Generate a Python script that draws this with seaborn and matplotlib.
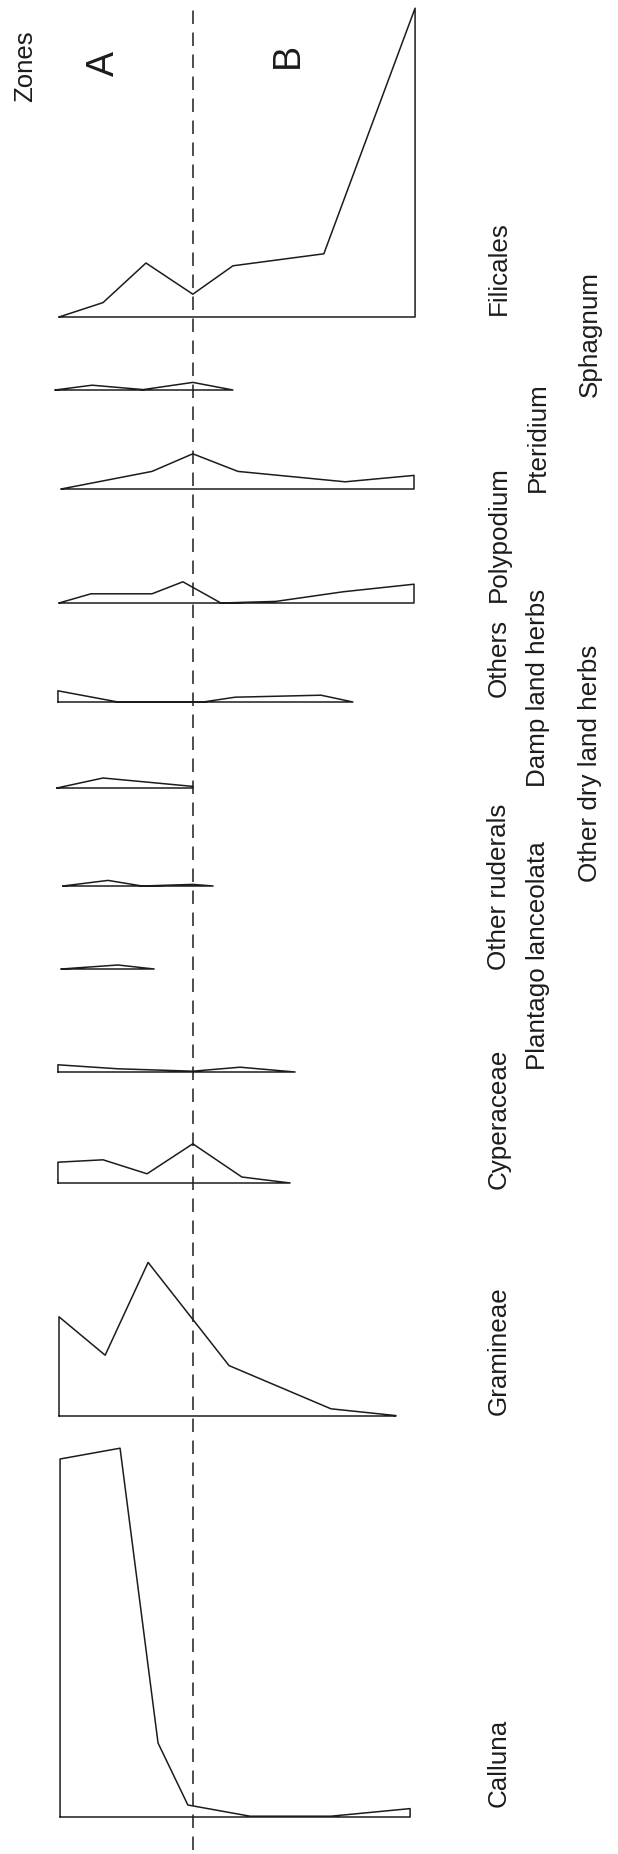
import numpy as np
import pandas as pd
import matplotlib
matplotlib.use('Agg')
import matplotlib.pyplot as plt
import seaborn as sns

# pollen taxa, top to bottom of the (rotated) diagram
taxa = ['Filicales', 'Sphagnum', 'Pteridium', 'Polypodium', 'Others',
        'Damp land herbs', 'Other dry land herbs', 'Other ruderals',
        'Plantago lanceolata', 'Cyperaceae', 'Gramineae', 'Calluna']

# sample depths (cm) and percentages for each taxon
filicales_depth = [0, 12.4, 24.5, 37.7, 49.0, 74.6, 100.3]
filicales_pct = [0, 3.6, 13.5, 5.7, 12.8, 15.8, 77.2]

sphagnum_depth = [-1.1, 9.3, 23.7, 37.7, 49.0]
sphagnum_pct = [0, 1.2, 0.1, 1.9, 0]

pteridium_depth = [0.6, 26.2, 37.7, 50.4, 80.6, 100.0]
pteridium_pct = [0, 4.4, 8.8, 4.4, 1.8, 3.4]

polypodium_depth = [0, 9.0, 26.2, 34.9, 45.6, 61.1, 80.0, 100.0]
polypodium_pct = [0, 2.3, 2.3, 5.3, 0, 0.4, 2.8, 4.7]

others_depth = [-0.3, 16.6, 40.6, 49.6, 73.8, 82.8]
others_pct = [2.8, 0, 0, 1.2, 1.7, 0]

damp_depth = [-0.6, 12.4, 37.7]
damp_pct = [0, 2.5, 0.4]

drylandherbs_depth = [1.1, 13.8, 23.4, 37.7, 43.4]
drylandherbs_pct = [0, 1.4, 0, 0.4, 0]

ruderals_depth = [0.6, 16.6, 26.8]
ruderals_pct = [0, 1.0, 0]

plantago_depth = [-0.3, 16.6, 37.7, 51.0, 66.5]
plantago_pct = [1.8, 0.8, 0.2, 1.2, 0]

cyperaceae_depth = [-0.3, 12.4, 24.8, 37.7, 51.5, 65.1]
cyperaceae_pct = [5.2, 5.8, 2.3, 9.8, 1.5, 0]

gramineae_depth = [0, 13.0, 25.1, 47.9, 76.6, 94.9]
gramineae_pct = [24.8, 15.2, 38.4, 12.6, 1.8, 0.1]

calluna_depth = [0.3, 17.2, 27.9, 36.3, 53.8, 76.6, 98.9]
calluna_pct = [89.5, 92.2, 18.5, 3.0, 0.2, 0.2, 2.1]

zone_names = ['A', 'B']
zone_boundary = 37.7

series = [
    (filicales_depth, filicales_pct), (sphagnum_depth, sphagnum_pct),
    (pteridium_depth, pteridium_pct), (polypodium_depth, polypodium_pct),
    (others_depth, others_pct), (damp_depth, damp_pct),
    (drylandherbs_depth, drylandherbs_pct), (ruderals_depth, ruderals_pct),
    (plantago_depth, plantago_pct), (cyperaceae_depth, cyperaceae_pct),
    (gramineae_depth, gramineae_pct), (calluna_depth, calluna_pct),
]

# ---- layout (pixels of the 618x1854 image) ----
W, H = 618, 1854
PX_PER_CM = 3.55
PX_PER_PCT = 4.0
X0 = 59  # depth 0
baseline_px = [317, 390, 489, 603, 702, 788, 886, 969, 1072, 1183, 1416, 1817]
label_col = [0, 2, 1, 0, 0, 1, 2, 0, 1, 0, 0, 0]
col_x_px = [506, 545, 597]
label_y_px = [315, 397, 492, 602, 697, 787, 882, 970, 1070, 1189, 1415, 1807]
INK = '#1c1c1c'


def px_x(p):
    return (p - X0) / PX_PER_CM


def px_y(p):
    return (H - p) / PX_PER_PCT


# build closed outlines: curve plus baseline
rows = []
for name, (d, v), base in zip(taxa, series, baseline_px):
    off = px_y(base)
    xs = [d[0]] + list(d) + [d[-1], d[0]]
    ys = [0] + list(v) + [0, 0]
    for i, (x, y) in enumerate(zip(xs, ys)):
        rows.append({'taxon': name, 'order': i, 'depth': x, 'y': off + y})
df = pd.DataFrame(rows)

sns.set_theme(style='white')
plt.rcParams['font.family'] = ['Liberation Sans', 'DejaVu Sans']

fig = plt.figure(figsize=(W / 100, H / 100), dpi=100)
ax = fig.add_axes([0, 0, 1, 1])

sns.lineplot(data=df, x='depth', y='y', units='taxon', estimator=None,
             sort=False, color=INK, linewidth=1.1, legend=False, ax=ax)

# zone boundary
ax.axvline(zone_boundary, ymin=4 / H, ymax=(H - 7) / H, color=INK,
           linewidth=1.1, linestyle=(0, (8.8, 5.6)))

ax.set_xlim(px_x(0), px_x(W))
ax.set_ylim(0, H / PX_PER_PCT)
ax.set_axis_off()

# taxon labels, rotated, starting at each baseline
for name, col, ly in zip(taxa, label_col, label_y_px):
    ax.text(px_x(col_x_px[col]), px_y(ly), name, rotation=90,
            rotation_mode='anchor', ha='left', va='baseline',
            fontsize=18.7, color=INK)

ax.text(px_x(32), px_y(102), 'Zones', rotation=90, rotation_mode='anchor',
        ha='left', va='baseline', fontsize=18.5, color=INK)
ax.text(px_x(104), px_y(63), zone_names[0], rotation=90, ha='center',
        va='center', fontsize=27, color=INK)
ax.text(px_x(288), px_y(55), zone_names[1], rotation=90, ha='center',
        va='center', fontsize=27, color=INK)

fig.savefig('out.png', dpi=100, facecolor='white')
